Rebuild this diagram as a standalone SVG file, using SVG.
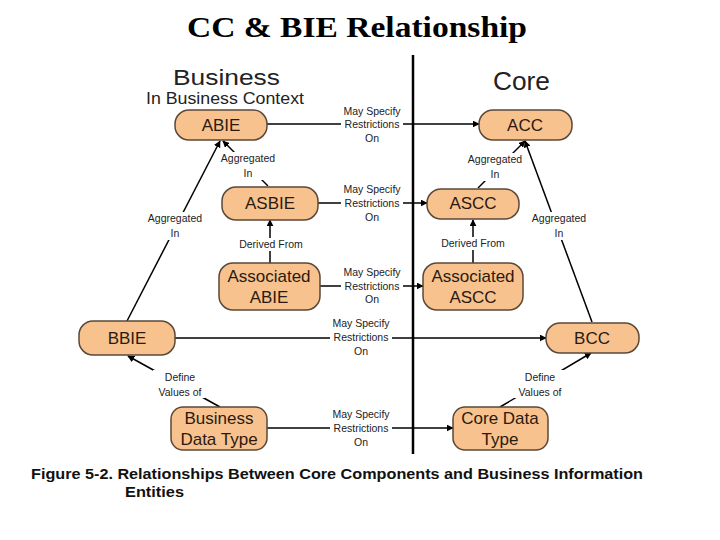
<svg xmlns="http://www.w3.org/2000/svg" width="720" height="540" viewBox="0 0 720 540">
<style>
.node rect{fill:#F8C28E;stroke:#5a4838;stroke-width:1.5}
.node text{font-family:"Liberation Sans",Arial,sans-serif;font-size:17px;fill:#2a1a10;text-anchor:middle}
.lbl{font-family:"Liberation Sans",Arial,sans-serif;font-size:10.5px;fill:#222;text-anchor:middle}
.conn line{stroke:#000;stroke-width:1.5;fill:none}
.arr{marker-end:url(#ah)}
.bg{fill:#fff}
.hd{font-family:"Liberation Sans",Arial,sans-serif;fill:#222}
</style>
<defs>
<marker id="ah" viewBox="0 0 10 10" refX="9" refY="5" markerWidth="7" markerHeight="7" markerUnits="userSpaceOnUse" orient="auto">
<path d="M0,0 L10,5 L0,10 z" fill="#000"/>
</marker>
</defs>
<rect width="720" height="540" fill="#fff"/>
<text x="357" y="37" font-family="'Liberation Serif','Times New Roman',serif" font-weight="bold" font-size="30" textLength="340" lengthAdjust="spacingAndGlyphs" text-anchor="middle" fill="#000">CC &amp; BIE Relationship</text>

<text class="hd" x="173" y="85" font-size="22" textLength="107" lengthAdjust="spacingAndGlyphs">Business</text>
<text class="hd" x="146" y="104" font-size="16" textLength="158" lengthAdjust="spacingAndGlyphs">In Business Context</text>
<text class="hd" x="493" y="90" font-size="25" textLength="57" lengthAdjust="spacingAndGlyphs">Core</text>

<line x1="413" y1="55" x2="413" y2="454" stroke="#000" stroke-width="2.5"/>

<g id="connectors" class="conn">
  <line class="arr" x1="267" y1="124" x2="479" y2="124"/>
  <line class="arr" x1="318" y1="203" x2="427" y2="203"/>
  <line class="arr" x1="320" y1="286" x2="423" y2="286"/>
  <line class="arr" x1="175" y1="338" x2="546" y2="338"/>
  <line class="arr" x1="267" y1="428" x2="453" y2="428"/>
  <line class="arr" x1="268" y1="186" x2="223" y2="141"/>
  <line class="arr" x1="127" y1="321" x2="220" y2="141"/>
  <line class="arr" x1="478" y1="188" x2="525" y2="141"/>
  <line class="arr" x1="592" y1="322" x2="525" y2="141"/>
  <line class="arr" x1="270" y1="263" x2="270" y2="220"/>
  <line class="arr" x1="473" y1="263" x2="473" y2="220"/>
  <line class="arr" x1="220" y1="407" x2="128" y2="356"/>
  <line class="arr" x1="500" y1="407" x2="591" y2="353"/>
  <g id="labels">
    <rect class="bg" x="341" y="106" width="62" height="38"/>
    <text class="lbl" x="372" y="115">May Specify</text>
    <text class="lbl" x="372" y="128">Restrictions</text>
    <text class="lbl" x="372" y="142">On</text>

    <rect class="bg" x="341" y="185" width="62" height="38"/>
    <text class="lbl" x="372" y="193">May Specify</text>
    <text class="lbl" x="372" y="207">Restrictions</text>
    <text class="lbl" x="372" y="221">On</text>

    <rect class="bg" x="341" y="268" width="62" height="38"/>
    <text class="lbl" x="372" y="276">May Specify</text>
    <text class="lbl" x="372" y="290">Restrictions</text>
    <text class="lbl" x="372" y="303">On</text>

    <rect class="bg" x="330" y="319" width="62" height="38"/>
    <text class="lbl" x="361" y="327">May Specify</text>
    <text class="lbl" x="361" y="341">Restrictions</text>
    <text class="lbl" x="361" y="355">On</text>

    <rect class="bg" x="330" y="409" width="62" height="38"/>
    <text class="lbl" x="361" y="418">May Specify</text>
    <text class="lbl" x="361" y="432">Restrictions</text>
    <text class="lbl" x="361" y="446">On</text>

    <rect class="bg" x="218" y="152" width="60" height="28"/>
    <text class="lbl" x="248" y="162">Aggregated</text>
    <text class="lbl" x="248" y="177">In</text>

    <rect class="bg" x="145" y="212" width="60" height="28"/>
    <text class="lbl" x="175" y="222">Aggregated</text>
    <text class="lbl" x="175" y="237">In</text>

    <rect class="bg" x="465" y="153" width="60" height="28"/>
    <text class="lbl" x="495" y="163">Aggregated</text>
    <text class="lbl" x="495" y="178">In</text>

    <rect class="bg" x="529" y="212" width="60" height="28"/>
    <text class="lbl" x="559" y="222">Aggregated</text>
    <text class="lbl" x="559" y="237">In</text>

    <rect class="bg" x="236" y="238" width="70" height="13"/>
    <text class="lbl" x="271" y="248">Derived From</text>

    <rect class="bg" x="438" y="237" width="70" height="13"/>
    <text class="lbl" x="473" y="247">Derived From</text>

    <rect class="bg" x="153" y="370" width="52" height="28"/>
    <text class="lbl" x="180" y="381">Define</text>
    <text class="lbl" x="180" y="396">Values of</text>

    <rect class="bg" x="514" y="370" width="52" height="28"/>
    <text class="lbl" x="540" y="381">Define</text>
    <text class="lbl" x="540" y="396">Values of</text>
  </g>
</g>

<g id="abie" class="node"><rect x="175" y="110" width="92" height="30" rx="14"/><text x="221" y="131">ABIE</text></g>
<g id="asbie" class="node"><rect x="222" y="187" width="96" height="33" rx="14"/><text x="270" y="209">ASBIE</text></g>
<g id="assoc-abie" class="node"><rect x="219" y="263" width="101" height="47" rx="14"/><text x="269" y="282">Associated</text><text x="269" y="303">ABIE</text></g>
<g id="bbie" class="node"><rect x="79" y="321" width="96" height="34" rx="14"/><text x="127" y="344">BBIE</text></g>
<g id="bdt" class="node"><rect x="171" y="407" width="96" height="43" rx="12"/><text x="219" y="424">Business</text><text x="219" y="445">Data Type</text></g>
<g id="acc" class="node"><rect x="479" y="110" width="93" height="30" rx="14"/><text x="525" y="131">ACC</text></g>
<g id="ascc" class="node"><rect x="427" y="189" width="92" height="30" rx="14"/><text x="473" y="209">ASCC</text></g>
<g id="assoc-ascc" class="node"><rect x="423" y="263" width="100" height="47" rx="14"/><text x="473" y="282">Associated</text><text x="473" y="303">ASCC</text></g>
<g id="bcc" class="node"><rect x="546" y="323" width="93" height="30" rx="14"/><text x="592" y="344">BCC</text></g>
<g id="cdt" class="node"><rect x="453" y="407" width="95" height="43" rx="12"/><text x="500" y="424">Core Data</text><text x="500" y="445">Type</text></g>

<text x="31" y="479" font-family="'Liberation Sans',Arial,sans-serif" font-weight="bold" font-size="15" textLength="612" lengthAdjust="spacingAndGlyphs" fill="#111">Figure 5-2. Relationships Between Core Components and Business Information</text>
<text x="125" y="497" font-family="'Liberation Sans',Arial,sans-serif" font-weight="bold" font-size="15" textLength="59" lengthAdjust="spacingAndGlyphs" fill="#111">Entities</text>
</svg>
